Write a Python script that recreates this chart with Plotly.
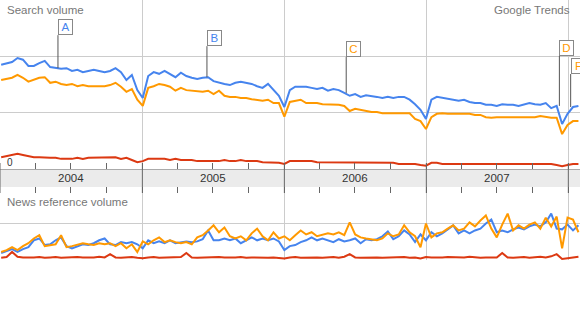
import numpy as np
import pandas as pd
import plotly.graph_objects as go

# ---------------- data (biweekly samples starting 2004-01-04) ----------------
START = "2004-01-04"
FREQ = "14D"

search_blue = [
    1.85, 1.87, 1.90, 1.97, 1.94, 1.83, 1.83, 1.88, 1.92, 1.81,
    1.79, 1.78, 1.79, 1.74, 1.76, 1.72, 1.74, 1.76, 1.74, 1.72,
    1.74, 1.79, 1.72, 1.58, 1.67, 1.40, 1.26, 1.65, 1.72, 1.69,
    1.74, 1.69, 1.63, 1.71, 1.65, 1.62, 1.60, 1.62, 1.63, 1.56,
    1.53, 1.51, 1.49, 1.53, 1.55, 1.53, 1.51, 1.47, 1.44, 1.51,
    1.40, 1.30, 1.10, 1.40, 1.46, 1.46, 1.46, 1.44, 1.42, 1.44,
    1.39, 1.42, 1.40, 1.35, 1.30, 1.33, 1.28, 1.31, 1.30, 1.28,
    1.26, 1.28, 1.26, 1.28, 1.28, 1.23, 1.15, 1.05, 0.89, 1.23,
    1.28, 1.26, 1.24, 1.23, 1.21, 1.23, 1.19, 1.17, 1.17, 1.14,
    1.14, 1.12, 1.15, 1.14, 1.14, 1.12, 1.15, 1.17, 1.15, 1.14,
    1.17, 1.08, 1.12, 0.80, 0.98, 1.10, 1.12,
]
search_orange = [
    1.58, 1.60, 1.62, 1.67, 1.62, 1.55, 1.58, 1.62, 1.63, 1.53,
    1.55, 1.51, 1.49, 1.51, 1.47, 1.49, 1.47, 1.47, 1.46, 1.47,
    1.49, 1.53, 1.46, 1.37, 1.42, 1.23, 1.12, 1.44, 1.47, 1.51,
    1.49, 1.46, 1.39, 1.44, 1.40, 1.39, 1.37, 1.37, 1.39, 1.33,
    1.39, 1.30, 1.28, 1.28, 1.26, 1.26, 1.24, 1.23, 1.21, 1.23,
    1.17, 1.17, 0.93, 1.19, 1.21, 1.23, 1.17, 1.17, 1.17, 1.15,
    1.15, 1.14, 1.14, 1.12, 1.03, 1.07, 1.05, 1.03, 1.01, 1.01,
    0.99, 0.99, 0.99, 0.99, 0.98, 0.99, 0.89, 0.85, 0.71, 0.92,
    0.98, 0.99, 0.98, 0.98, 0.98, 0.99, 0.98, 0.96, 0.96, 0.92,
    0.91, 0.92, 0.92, 0.91, 0.92, 0.91, 0.91, 0.92, 0.92, 0.94,
    0.92, 0.91, 0.91, 0.62, 0.78, 0.85, 0.85,
]
search_red = [
    0.21, 0.23, 0.25, 0.27, 0.25, 0.23, 0.21, 0.21, 0.20, 0.20,
    0.20, 0.18, 0.18, 0.18, 0.20, 0.18, 0.20, 0.20, 0.21, 0.20,
    0.20, 0.21, 0.18, 0.20, 0.16, 0.12, 0.14, 0.18, 0.18, 0.18,
    0.18, 0.16, 0.18, 0.16, 0.16, 0.16, 0.14, 0.14, 0.14, 0.14,
    0.14, 0.16, 0.14, 0.14, 0.16, 0.14, 0.14, 0.14, 0.12, 0.12,
    0.12, 0.11, 0.09, 0.14, 0.14, 0.14, 0.14, 0.14, 0.12, 0.12,
    0.12, 0.12, 0.12, 0.12, 0.11, 0.11, 0.11, 0.11, 0.11, 0.11,
    0.11, 0.11, 0.11, 0.09, 0.09, 0.09, 0.09, 0.07, 0.06, 0.11,
    0.11, 0.09, 0.09, 0.09, 0.09, 0.09, 0.09, 0.09, 0.09, 0.09,
    0.09, 0.09, 0.09, 0.09, 0.09, 0.09, 0.09, 0.09, 0.09, 0.09,
    0.09, 0.09, 0.07, 0.05, 0.07, 0.09, 0.09,
]
news_blue = [
    0.19, 0.24, 0.30, 0.22, 0.30, 0.35, 0.54, 0.59, 0.41, 0.43,
    0.54, 0.62, 0.38, 0.32, 0.38, 0.43, 0.41, 0.46, 0.54, 0.59,
    0.43, 0.41, 0.49, 0.46, 0.49, 0.43, 0.32, 0.54, 0.46, 0.51,
    0.46, 0.54, 0.46, 0.49, 0.51, 0.49, 0.51, 0.57, 0.81, 0.54,
    0.54, 0.59, 0.54, 0.59, 0.46, 0.54, 0.62, 0.54, 0.59, 0.54,
    0.59, 0.51, 0.27, 0.38, 0.41, 0.49, 0.54, 0.62, 0.54, 0.59,
    0.54, 0.49, 0.57, 0.51, 0.54, 0.59, 0.46, 0.57, 0.54, 0.57,
    0.65, 0.78, 0.57, 0.65, 0.81, 0.70, 0.49, 0.70, 0.54, 0.76,
    0.65, 0.73, 0.84, 0.95, 0.73, 0.81, 0.73, 0.81, 0.86, 1.00,
    1.11, 0.76, 0.81, 0.76, 0.84, 0.89, 0.84, 0.92, 0.97, 0.92,
    1.03, 1.27, 0.86, 0.84, 0.97, 0.81, 0.95,
]
news_orange = [
    0.22, 0.27, 0.35, 0.27, 0.38, 0.46, 0.59, 0.68, 0.38, 0.41,
    0.43, 0.68, 0.35, 0.38, 0.43, 0.46, 0.43, 0.41, 0.46, 0.43,
    0.46, 0.38, 0.46, 0.32, 0.43, 0.22, 0.51, 0.43, 0.54, 0.62,
    0.49, 0.54, 0.49, 0.46, 0.49, 0.43, 0.62, 0.68, 0.81, 0.95,
    0.76, 0.89, 0.65, 0.59, 0.65, 0.54, 0.73, 0.86, 0.65, 0.54,
    0.76, 0.59, 0.65, 0.54, 0.68, 0.81, 0.70, 0.76, 0.65, 0.70,
    0.73, 0.70, 0.76, 0.68, 1.03, 0.70, 0.62, 0.59, 0.57, 0.54,
    0.59, 0.73, 0.65, 0.70, 0.95, 0.76, 0.65, 0.35, 1.00, 0.62,
    0.73, 0.76, 0.86, 0.95, 0.81, 0.86, 1.03, 0.92, 1.08, 1.22,
    0.86, 0.62, 0.97, 1.27, 0.81, 0.95, 0.86, 0.97, 1.03, 0.86,
    1.16, 0.92, 1.19, 0.32, 1.16, 1.11, 0.76,
]
news_red = [
    0.06, 0.08, 0.22, 0.09, 0.07, 0.06, 0.07, 0.08, 0.06, 0.07,
    0.08, 0.06, 0.07, 0.06, 0.08, 0.07, 0.06, 0.07, 0.09, 0.07,
    0.16, 0.07, 0.06, 0.07, 0.08, 0.06, 0.05, 0.07, 0.08, 0.06,
    0.07, 0.06, 0.07, 0.08, 0.19, 0.07, 0.06, 0.07, 0.06, 0.07,
    0.08, 0.07, 0.06, 0.07, 0.08, 0.06, 0.07, 0.06, 0.07, 0.06,
    0.07, 0.06, 0.04, 0.07, 0.08, 0.06, 0.07, 0.08, 0.07, 0.06,
    0.07, 0.08, 0.06, 0.09, 0.16, 0.07, 0.06, 0.07, 0.06, 0.07,
    0.06, 0.07, 0.06, 0.07, 0.08, 0.06, 0.07, 0.04, 0.08, 0.07,
    0.06, 0.07, 0.08, 0.07, 0.06, 0.07, 0.09, 0.07, 0.06, 0.07,
    0.08, 0.07, 0.19, 0.07, 0.06, 0.07, 0.08, 0.06, 0.07, 0.09,
    0.07, 0.10, 0.16, 0.03, 0.05, 0.08, 0.09,
]

years = ["2004", "2005", "2006", "2007"]
year_bounds = ["2004-01-01", "2005-01-01", "2006-01-01", "2007-01-01", "2008-01-01"]
flag_letters = ["A", "B", "C", "D", "F"]
flag_dates = ["2004-05-29", "2005-06-16", "2006-06-09", "2007-12-09", "2008-01-07"]
flag_colors = ["blue", "blue", "orange", "orange", "orange"]
flag_rise = [33, 31, 36, 50, 33]

# ---------------- styling ----------------
BLUE = "#4684ee"
ORANGE = "#ff9900"
RED = "#dc3912"
FONT = "Arial, Liberation Sans, sans-serif"
W, H = 580, 320


def py(pix):
    return 1 - pix / H


def dates(n):
    return pd.date_range(START, periods=n, freq=FREQ)


fig = go.Figure()
for vals, col in [(search_red, RED), (search_blue, BLUE), (search_orange, ORANGE)]:
    fig.add_trace(go.Scatter(x=dates(len(vals)), y=vals, mode="lines",
                             line=dict(color=col, width=2), xaxis="x", yaxis="y",
                             hoverinfo="skip"))
for vals, col in [(news_red, RED), (news_blue, BLUE), (news_orange, ORANGE)]:
    fig.add_trace(go.Scatter(x=dates(len(vals)), y=vals, mode="lines",
                             line=dict(color=col, width=2), xaxis="x2", yaxis="y2",
                             hoverinfo="skip"))

xcommon = dict(type="date", range=["2004-01-01", "2008-01-31"], showgrid=True,
               gridcolor="#cccccc", gridwidth=1, dtick="M12", tick0="2004-01-01",
               ticks="inside", ticklen=6, tickcolor="#666666", showticklabels=False,
               zeroline=False,
               minor=dict(dtick="M3", tick0="2004-01-01", ticks="inside", ticklen=6,
                          tickcolor="#666666", showgrid=False))

fig.update_layout(
    width=W, height=H, margin=dict(l=0, r=0, t=0, b=0),
    paper_bgcolor="white", plot_bgcolor="white", showlegend=False,
    font=dict(family=FONT),
    xaxis=dict(domain=[0, 1], anchor="y", showline=True, linecolor="#aaaaaa", **xcommon),
    yaxis=dict(domain=[py(169), 1], range=[0, 3], tickvals=[1, 2],
               showticklabels=False, gridcolor="#cccccc", zeroline=False),
    xaxis2=dict(domain=[0, 1], anchor="y2", matches="x", side="top", showline=False, **xcommon),
    yaxis2=dict(domain=[py(260), py(187)], range=[0, 2], tickvals=[1],
                showticklabels=False, gridcolor="#cccccc", zeroline=False),
)

shapes = [dict(type="rect", xref="paper", yref="paper", x0=0, x1=1, y0=py(187), y1=py(169),
               fillcolor="#ebebeb", line=dict(width=0), layer="below")]
for b in year_bounds:
    shapes.append(dict(type="line", xref="x", yref="paper", x0=b, x1=b, y0=py(193), y1=py(163),
                       line=dict(color="#666666", width=1)))
fig.update_layout(shapes=shapes)

ann = []
for y in years:
    ann.append(dict(x=f"{y}-07-02", xref="x", y=py(178), yref="paper", text=y,
                    yanchor="middle", showarrow=False, font=dict(size=11.5, color="#333333")))
ann.append(dict(x=5 / W, xref="paper", y=py(10), yref="paper", text="Search volume",
                xanchor="left", yanchor="middle", showarrow=False,
                font=dict(size=11.5, color="#777777")))
ann.append(dict(x=572 / W, xref="paper", y=py(10), yref="paper", text="Google Trends",
                xanchor="right", yanchor="middle", showarrow=False,
                font=dict(size=11.5, color="#777777")))
ann.append(dict(x=5 / W, xref="paper", y=py(162), yref="paper", text="0",
                xanchor="left", yanchor="middle", showarrow=False,
                font=dict(size=10, color="#333333")))
ann.append(dict(x=5 / W, xref="paper", y=py(202), yref="paper", text="News reference volume",
                xanchor="left", yanchor="middle", showarrow=False,
                font=dict(size=11.5, color="#777777")))

d_blue = dates(len(search_blue))
for letter, fd, fc, rise in zip(flag_letters, flag_dates, flag_colors, flag_rise):
    idx = int(np.argmin(np.abs((d_blue - pd.Timestamp(fd)).days)))
    ann.append(dict(x=fd, xref="x", y=search_blue[idx], yref="y", text=letter,
                    showarrow=True, arrowhead=0, arrowwidth=1, arrowcolor="#555555",
                    ax=0, ay=-rise, xanchor="left", yanchor="bottom", standoff=0,
                    font=dict(size=11.5, color=BLUE if fc == "blue" else ORANGE),
                    bgcolor="white", bordercolor="#888888", borderwidth=1, borderpad=1,
                    width=11, height=12))
fig.update_layout(annotations=ann)

fig.write_html("out.html")
